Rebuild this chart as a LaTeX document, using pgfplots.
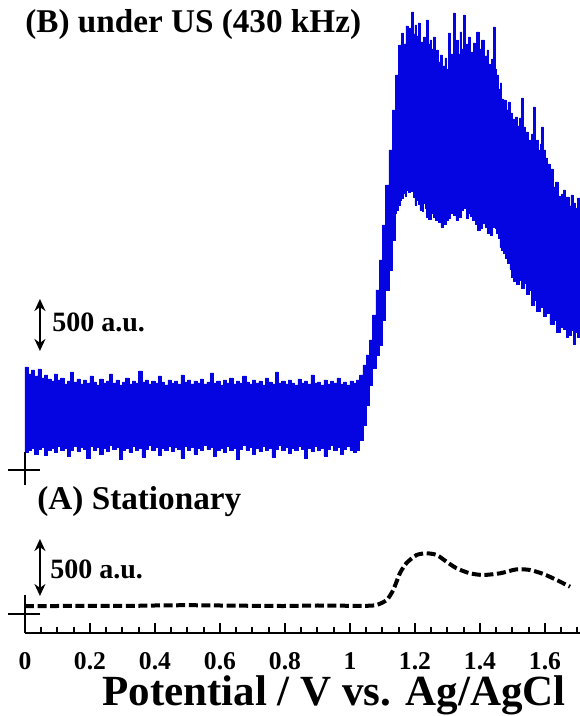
\documentclass[border=0pt]{standalone}
\usepackage{fontspec}
\setmainfont{Liberation Serif}
\usepackage{pgfplots}
\pgfplotsset{compat=1.18}
\usetikzlibrary{arrows.meta}
\definecolor{sigblue}{RGB}{5,5,225}
\begin{document}
\begin{tikzpicture}
\begin{axis}[
 scale only axis, width=277.5pt, height=316.5pt,
 xmin=0, xmax=1.7077, ymin=-190, ymax=6140,
 axis x line=bottom, axis y line=none,
 axis line style={line width=1pt, -},
 xtick={0,0.2,0.4,0.6,0.8,1,1.2,1.4,1.6},
 xticklabels={0,0.2,0.4,0.6,0.8,1,1.2,1.4,1.6},
 minor xtick={0.05,0.1,0.15,0.25,0.3,0.35,0.45,0.5,0.55,0.65,0.7,0.75,0.85,0.9,0.95,1.05,1.1,1.15,1.25,1.3,1.35,1.45,1.5,1.55,1.65,1.7},
 tick align=inside,
 major tick length=5pt, minor tick length=3pt,
 every tick/.style={black, line width=1pt},
 /pgf/number format/assume math mode=true,
 xticklabel style={font=\fontsize{12.8}{14}\selectfont\bfseries, inner sep=0pt, yshift=-9.5pt},
 clip=false,
]
% (A) stationary
\addplot[black, line width=2pt, dash pattern=on 4.5pt off 1.8pt, smooth, tension=0.4] coordinates {
(0,80)(0.1,80)(0.2,82)(0.3,80)(0.4,85)(0.5,88)(0.6,85)(0.7,82)(0.8,80)(0.9,85)(1.0,82)(1.051,82)
(1.082,90)(1.113,140)(1.133,240)(1.154,410)(1.174,510)(1.205,590)(1.236,607)(1.267,590)(1.297,523)
(1.328,457)(1.369,407)(1.410,390)(1.462,407)(1.513,447)(1.554,440)(1.595,400)(1.636,340)(1.677,273)};
% (B) under US
\addplot[draw=sigblue, line width=0.3pt, fill=sigblue, const plot] coordinates {
(0.00,2470)(0.01,2400)(0.02,2440)(0.03,2380)(0.04,2450)(0.05,2360)(0.06,2390)(0.07,2350)(0.08,2330)(0.09,2400)
(0.10,2340)(0.11,2360)(0.12,2300)(0.13,2330)(0.14,2420)(0.15,2320)(0.16,2350)(0.17,2300)(0.18,2340)(0.19,2310)
(0.20,2380)(0.21,2320)(0.22,2290)(0.23,2350)(0.24,2310)(0.25,2330)(0.26,2400)(0.27,2310)(0.28,2340)(0.29,2290)
(0.30,2320)(0.31,2360)(0.32,2300)(0.33,2330)(0.34,2310)(0.35,2430)(0.36,2320)(0.37,2340)(0.38,2300)(0.39,2330)
(0.40,2310)(0.41,2380)(0.42,2320)(0.43,2290)(0.44,2340)(0.45,2310)(0.46,2330)(0.47,2300)(0.48,2390)(0.49,2320)
(0.50,2340)(0.51,2300)(0.52,2330)(0.53,2310)(0.54,2350)(0.55,2300)(0.56,2320)(0.57,2410)(0.58,2310)(0.59,2330)
(0.60,2290)(0.61,2340)(0.62,2310)(0.63,2360)(0.64,2300)(0.65,2330)(0.66,2310)(0.67,2380)(0.68,2320)(0.69,2300)
(0.70,2340)(0.71,2310)(0.72,2330)(0.73,2290)(0.74,2360)(0.75,2320)(0.76,2300)(0.77,2420)(0.78,2310)(0.79,2330)
(0.80,2300)(0.81,2340)(0.82,2310)(0.83,2290)(0.84,2350)(0.85,2310)(0.86,2330)(0.87,2300)(0.88,2390)(0.89,2310)
(0.90,2320)(0.91,2290)(0.92,2340)(0.93,2300)(0.94,2330)(0.95,2310)(0.96,2360)(0.97,2300)(0.98,2320)(0.99,2290)
(1.00,2330)(1.01,2310)(1.02,2340)
(1.03,2390)(1.04,2490)(1.05,2590)(1.06,2740)(1.07,2990)(1.08,3240)(1.09,3540)(1.10,3890)(1.11,4290)(1.12,4640)(1.13,5040)(1.14,5390)(1.15,5690)
(1.159,5810)(1.165,5700)(1.172,5880)(1.180,5860)(1.185,5750)(1.190,6020)(1.195,5800)(1.200,5890)(1.205,5780)(1.210,5910)
(1.216,5720)(1.226,5770)(1.231,5680)(1.236,5940)(1.241,5700)(1.246,5740)(1.251,5650)(1.256,5770)(1.262,5600)(1.267,5640)
(1.272,5520)(1.277,5590)(1.284,5480)(1.292,5560)(1.297,5450)(1.303,5810)(1.308,5420)(1.313,5600)(1.318,6010)(1.323,5620)
(1.328,5740)(1.333,5600)(1.338,5820)(1.344,5650)(1.349,5990)(1.354,5640)(1.359,5700)(1.364,5770)(1.370,5620)(1.379,5710)
(1.385,5600)(1.390,5820)(1.397,5650)(1.405,5740)(1.413,5580)(1.421,5640)(1.426,5500)(1.431,5410)(1.436,5550)(1.441,5870)
(1.446,5450)(1.451,5390)(1.457,5250)(1.462,5310)(1.467,5150)(1.472,5140)(1.480,5040)(1.486,5120)(1.492,5010)(1.500,4950)
(1.508,4970)(1.515,4880)(1.521,4960)(1.528,5160)(1.533,4870)(1.540,4820)(1.548,4740)(1.554,4710)(1.559,4800)(1.564,5070)
(1.569,4700)(1.574,4740)(1.580,4640)(1.585,4700)(1.590,4870)(1.595,4640)(1.602,4560)(1.608,4500)(1.615,4410)(1.620,4450)
(1.626,4270)(1.633,4320)(1.640,4180)(1.646,4140)(1.651,4200)(1.656,4240)(1.661,4120)(1.667,4170)(1.674,4080)(1.680,4190)
(1.687,4110)(1.694,4060)(1.700,4160)(1.708,4140)
(1.708,2770)(1.700,2820)(1.694,2700)(1.687,2840)(1.680,2790)(1.672,2770)(1.665,2850)(1.656,2870)(1.648,2820)(1.636,2940)
(1.628,2900)(1.615,3010)(1.605,2980)(1.595,3070)(1.585,3030)(1.574,3140)(1.566,3090)(1.559,3240)(1.551,3200)(1.544,3310)
(1.536,3260)(1.528,3340)(1.520,3300)(1.513,3410)(1.508,3330)(1.503,3370)(1.497,3450)(1.492,3510)(1.485,3560)(1.477,3610)
(1.472,3640)(1.467,3670)(1.461,3760)(1.456,3810)(1.451,3860)(1.446,3870)(1.438,3790)(1.431,3810)(1.423,3870)(1.415,3910)
(1.408,3860)(1.400,3840)(1.392,3900)(1.385,3940)(1.377,3980)(1.369,4010)(1.364,3960)(1.359,4140)(1.354,4060)(1.349,4040)
(1.341,3970)(1.333,3940)(1.326,3990)(1.318,4010)(1.310,3960)(1.303,3940)(1.295,3900)(1.287,3870)(1.280,3920)(1.272,3940)
(1.264,3970)(1.256,4010)(1.249,3950)(1.241,3970)(1.236,4060)(1.231,4110)(1.226,4030)(1.221,4040)(1.215,4100)(1.210,4140)
(1.205,4090)(1.200,4170)(1.195,4230)(1.190,4320)(1.185,4220)(1.180,4240)(1.174,4180)(1.169,4210)(1.164,4160)(1.159,4140)
(1.154,4090)(1.149,4040)(1.144,4010)
(1.14,3740)(1.13,3440)(1.12,3240)(1.11,2940)(1.10,2690)(1.09,2590)(1.08,2460)(1.07,2290)(1.06,2090)(1.05,1890)(1.04,1740)(1.03,1640)(1.02,1620)
(1.01,1640)(1.00,1680)(0.99,1650)(0.98,1600)(0.97,1670)(0.96,1640)(0.95,1690)(0.94,1650)(0.93,1580)(0.92,1660)
(0.91,1640)(0.90,1680)(0.89,1630)(0.88,1660)(0.87,1560)(0.86,1650)(0.85,1680)(0.84,1640)(0.83,1660)(0.82,1610)
(0.81,1670)(0.80,1640)(0.79,1690)(0.78,1650)(0.77,1570)(0.76,1660)(0.75,1640)(0.74,1680)(0.73,1630)(0.72,1660)
(0.71,1600)(0.70,1670)(0.69,1640)(0.68,1690)(0.67,1650)(0.66,1550)(0.65,1660)(0.64,1640)(0.63,1680)(0.62,1620)
(0.61,1660)(0.60,1640)(0.59,1580)(0.58,1670)(0.57,1650)(0.56,1690)(0.55,1640)(0.54,1660)(0.53,1600)(0.52,1670)
(0.51,1640)(0.50,1680)(0.49,1560)(0.48,1650)(0.47,1670)(0.46,1630)(0.45,1680)(0.44,1640)(0.43,1660)(0.42,1590)
(0.41,1670)(0.40,1640)(0.39,1690)(0.38,1650)(0.37,1570)(0.36,1660)(0.35,1640)(0.34,1680)(0.33,1620)(0.32,1660)
(0.31,1640)(0.30,1550)(0.29,1670)(0.28,1650)(0.27,1690)(0.26,1630)(0.25,1660)(0.24,1600)(0.23,1670)(0.22,1640)
(0.21,1680)(0.20,1560)(0.19,1650)(0.18,1670)(0.17,1630)(0.16,1680)(0.15,1640)(0.14,1580)(0.13,1660)(0.12,1640)
(0.11,1680)(0.10,1620)(0.09,1660)(0.08,1640)(0.07,1590)(0.06,1670)(0.05,1650)(0.04,1600)(0.03,1660)(0.02,1640)
(0.01,1620)(0.00,1660)} -- cycle;
% zero markers
\draw[line width=1pt] (axis cs:-0.0523,0) -- (axis cs:0.0462,0);
\draw[line width=1pt] (axis cs:0,190) -- (axis cs:0,-190);
\draw[line width=1pt] (axis cs:-0.0523,1440) -- (axis cs:0.0462,1440);
\draw[line width=1pt] (axis cs:0,1620) -- (axis cs:0,1290);
% scale bars
\draw[line width=1.4pt, {Stealth[length=6pt,width=5.5pt]}-{Stealth[length=6pt,width=5.5pt]}] (axis cs:0.046,3150) -- (axis cs:0.046,2630);
\draw[line width=1.4pt, {Stealth[length=6pt,width=5.5pt]}-{Stealth[length=6pt,width=5.5pt]}] (axis cs:0.046,750) -- (axis cs:0.046,180);
\node[anchor=west, inner sep=0pt, font=\fontsize{14}{16}\selectfont\bfseries] at (axis cs:0.083,2920) {500 a.u.};
\node[anchor=west, inner sep=0pt, font=\fontsize{14}{16}\selectfont\bfseries] at (axis cs:0.077,450) {500 a.u.};
% titles
\node[anchor=west, inner sep=0pt, font=\fontsize{16.6}{18}\selectfont\bfseries] at (axis cs:0,5890) {(B) under US (430 kHz)};
\node[anchor=west, inner sep=0pt, font=\fontsize{16.6}{18}\selectfont\bfseries] at (axis cs:0.037,1120) {(A) Stationary};
% x label
\node[inner sep=0pt, font=\fontsize{21.5}{24}\selectfont\bfseries] at (axis cs:0.951,-815) {Potential / V vs. Ag/AgCl};
\coordinate (bl) at (axis cs:-0.0769,-1020);
\coordinate (tr) at (axis cs:1.7077,6140);
\end{axis}
\pgfresetboundingbox
\path[use as bounding box] (bl) rectangle (tr);
\end{tikzpicture}
\end{document}
